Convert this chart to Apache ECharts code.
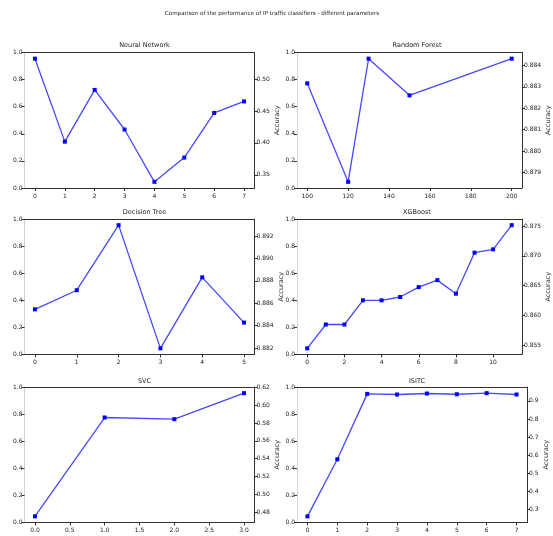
<!DOCTYPE html>
<html>
<head>
<meta charset="utf-8">
<script src="https://cdn.jsdelivr.net/npm/echarts@6/dist/echarts.min.js"></script>
<style>
  html, body { margin: 0; padding: 0; background: #fff; }
  #chart { width: 553px; height: 536px; }
</style>
</head>
<body>
<div id="chart"></div>
<script>
// Accuracy per parameter setting for each classifier
const nnX = [0, 1, 2, 3, 4, 5, 6, 7];
const nnAcc = [0.532, 0.402, 0.483, 0.421, 0.339, 0.377, 0.447, 0.465];
const nnXTicks = [0, 1, 2, 3, 4, 5, 6, 7];
const nnYTicks = [0.35, 0.40, 0.45, 0.50];

const rfX = [100, 120, 130, 150, 200];
const rfAcc = [0.88316, 0.87857, 0.88431, 0.88260, 0.88431];
const rfXTicks = [100, 120, 140, 160, 180, 200];
const rfYTicks = [0.879, 0.880, 0.881, 0.882, 0.883, 0.884];

const dtX = [0, 1, 2, 3, 4, 5];
const dtAcc = [0.88545, 0.88716, 0.89297, 0.88197, 0.88831, 0.88427];
const dtXTicks = [0, 1, 2, 3, 4, 5];
const dtYTicks = [0.882, 0.884, 0.886, 0.888, 0.890, 0.892];

const xgbX = [0, 1, 2, 3, 4, 5, 6, 7, 8, 9, 10, 11];
const xgbAcc = [0.85444, 0.85845, 0.85845, 0.86252, 0.86252, 0.86308, 0.86475, 0.86592, 0.86364, 0.87054, 0.87110, 0.87517];
const xgbXTicks = [0, 2, 4, 6, 8, 10];
const xgbYTicks = [0.855, 0.860, 0.865, 0.870, 0.875];

const svcX = [0, 1, 2, 3];
const svcAcc = [0.47518, 0.58631, 0.58445, 0.61369];
const svcXTicks = [0, 0.5, 1.0, 1.5, 2.0, 2.5, 3.0];
const svcYTicks = [0.48, 0.50, 0.52, 0.54, 0.56, 0.58, 0.60, 0.62];

const isitcX = [0, 1, 2, 3, 4, 5, 6, 7];
const isitcAcc = [0.2636, 0.578, 0.938, 0.9345, 0.940, 0.936, 0.942, 0.9345];
const isitcXTicks = [0, 1, 2, 3, 4, 5, 6, 7];
const isitcYTicks = [0.3, 0.4, 0.5, 0.6, 0.7, 0.8, 0.9];

// Unused left twin axis (0..1)
const leftTicks = [0.0, 0.2, 0.4, 0.6, 0.8, 1.0];

const mainTitle = 'Comparison of the performance of IP traffic classifiers - different parameters';

const panels = [
  { name: 'Neural Network', x: nnX, y: nnAcc, xt: nnXTicks, yt: nnYTicks, xd: 0, yd: 2 },
  { name: 'Random Forest', x: rfX, y: rfAcc, xt: rfXTicks, yt: rfYTicks, xd: 0, yd: 3 },
  { name: 'Decision Tree', x: dtX, y: dtAcc, xt: dtXTicks, yt: dtYTicks, xd: 0, yd: 3 },
  { name: 'XGBoost', x: xgbX, y: xgbAcc, xt: xgbXTicks, yt: xgbYTicks, xd: 0, yd: 3 },
  { name: 'SVC', x: svcX, y: svcAcc, xt: svcXTicks, yt: svcYTicks, xd: 1, yd: 2 },
  { name: 'ISITC', x: isitcX, y: isitcAcc, xt: isitcXTicks, yt: isitcYTicks, xd: 0, yd: 1 }
];

// Layout of the 3x2 panel grid
const colLeft = [24.5, 297];
const rowTop = [52.5, 219, 387];
const rowTitleTop = [37, 203.5, 372.5];
const panelW = 230;
const panelH = 135.5;

const FONT = 'DejaVu Sans';
const TXT = '#222';
const SPINE = '#333';
const tickFont = 6;

function padded(arr) {
  const lo = Math.min(...arr), hi = Math.max(...arr);
  const m = (hi - lo) * 0.05;
  return [lo - m, hi + m];
}

const option = {
  animation: false,
  backgroundColor: '#fff',
  textStyle: { fontFamily: FONT },
  title: [{
    text: mainTitle,
    left: 267, top: 6, textAlign: 'center',
    textStyle: { fontFamily: FONT, fontSize: 5.6, fontWeight: 'normal', color: TXT }
  }],
  grid: [], xAxis: [], yAxis: [], series: []
};

panels.forEach((p, i) => {
  const col = i % 2, row = Math.floor(i / 2);
  const left = colLeft[col], top = rowTop[row];
  option.grid.push({ left: left, top: top, width: panelW, height: panelH, containLabel: false });

  option.title.push({
    text: p.name,
    left: left + panelW / 2, top: rowTitleTop[row], textAlign: 'center',
    textStyle: { fontFamily: FONT, fontSize: 6.5, fontWeight: 'normal', color: TXT }
  });

  const xr = padded(p.x), yr = padded(p.y);
  const labelStyle = { fontFamily: FONT, fontSize: tickFont, color: TXT };
  // the axis title sits just beyond the widest tick label
  const labelChars = p.yt[0].toFixed(p.yd).length;
  const nameGap = 10 + (labelChars - 3) * 2.2;

  // bottom x axis
  option.xAxis.push({
    type: 'value', gridIndex: i, position: 'bottom', min: xr[0], max: xr[1],
    axisLine: { show: true, onZero: false, lineStyle: { color: SPINE, width: 1 } },
    axisTick: { show: true, length: 3, customValues: p.xt, lineStyle: { color: SPINE } },
    axisLabel: Object.assign({ customValues: p.xt, margin: 5,
      formatter: v => v.toFixed(p.xd) }, labelStyle),
    splitLine: { show: false }
  });
  // top frame line
  option.xAxis.push({
    type: 'value', gridIndex: i, position: 'top', min: 0, max: 1,
    axisLine: { show: true, onZero: false, lineStyle: { color: SPINE, width: 1 } },
    axisTick: { show: false }, axisLabel: { show: false }, splitLine: { show: false }
  });
  // left twin axis 0..1
  option.yAxis.push({
    type: 'value', gridIndex: i, position: 'left', min: 0, max: 1,
    axisLine: { show: true, onZero: false, lineStyle: { color: '#d4d4d4', width: 1 } },
    axisTick: { show: true, length: 3, customValues: leftTicks, lineStyle: { color: SPINE } },
    axisLabel: Object.assign({ customValues: leftTicks, margin: 2,
      formatter: v => v.toFixed(1) }, labelStyle),
    splitLine: { show: false }
  });
  // right accuracy axis
  option.yAxis.push({
    type: 'value', gridIndex: i, position: 'right', min: yr[0], max: yr[1],
    name: 'Accuracy', nameLocation: 'middle', nameRotate: 90, nameGap: nameGap,
    nameTextStyle: { fontFamily: FONT, fontSize: 6.5, color: '#333' },
    axisLine: { show: true, onZero: false, lineStyle: { color: SPINE, width: 1 } },
    axisTick: { show: true, length: 3, customValues: p.yt, lineStyle: { color: SPINE } },
    axisLabel: Object.assign({ customValues: p.yt, margin: 2,
      formatter: v => v.toFixed(p.yd) }, labelStyle),
    splitLine: { show: false }
  });

  option.series.push({
    type: 'line',
    xAxisIndex: i * 2, yAxisIndex: i * 2 + 1,
    data: p.x.map((xv, k) => [xv, p.y[k]]),
    symbol: 'rect', symbolSize: 4, showSymbol: true,
    lineStyle: { color: 'rgba(0,0,255,0.72)', width: 1.3 },
    itemStyle: { color: '#0000ff' },
    emphasis: { disabled: true }
  });
});

const chart = echarts.init(document.getElementById('chart'), null, { renderer: 'canvas' });
chart.setOption(option);
</script>
</body>
</html>
